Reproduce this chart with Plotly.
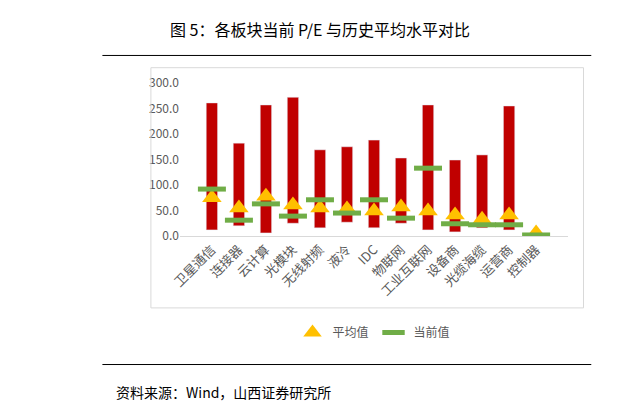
import plotly.graph_objects as go

categories = ['卫星通信', '连接器', '云计算', '光模块', '无线射频', '液冷', 'IDC',
              '物联网', '工业互联网', '设备商', '光缆海缆', '运营商', '控制器']
pe_max = [261, 182, 257, 272, 169, 175, 188, 153, 257, 149, 159, 255, 3]
pe_min = [12, 20, 6, 25, 16, 27, 16, 25, 12, 8, 16, 12, 1]
pe_avg = [75, 55, 78, 61, 55, 53, 49, 57, 49, 41, 33, 41, 6]
pe_now = [92, 31, 63, 39, 71, 45, 71, 35, 133, 24, 22, 22, 2]

font = 'Noto Sans CJK SC'
fig = go.Figure()
fig.add_trace(go.Bar(
    x=categories,
    y=[hi - lo for hi, lo in zip(pe_max, pe_min)],
    base=pe_min,
    marker={'color': '#C00000'},
    width=0.42,
    showlegend=False,
    hoverinfo='skip',
))
fig.add_trace(go.Scatter(
    x=categories, y=pe_avg, mode='markers', name='平均值',
    marker={'symbol': 'triangle-up', 'size': 17, 'color': '#FFC000'},
))
fig.add_trace(go.Scatter(
    x=categories, y=pe_now, mode='markers', name='当前值',
    marker={'symbol': 'line-ew', 'size': 20, 'line': {'color': '#70AD47', 'width': 5}},
))

fig.update_layout(
    width=644, height=409,
    margin={'l': 172, 'r': 84, 't': 75, 'b': 181},
    plot_bgcolor='white', paper_bgcolor='white',
    font={'family': font, 'size': 12, 'color': '#595959'},
    bargap=0.5,
    legend={'orientation': 'h', 'x': 0.5, 'xanchor': 'center', 'y': -0.63,
            'yanchor': 'middle', 'font': {'size': 12, 'color': '#595959'}},
    xaxis={'tickangle': -45, 'showline': True, 'linecolor': '#D9D9D9',
           'automargin': False, 'tickfont': {'size': 13, 'color': '#595959'}},
    yaxis={'range': [0, 300], 'dtick': 50, 'tickformat': '.1f', 'showgrid': False,
           'zeroline': False, 'automargin': False,
           'tickfont': {'size': 12, 'color': '#595959'}},
    shapes=[
        {'type': 'rect', 'xref': 'paper', 'yref': 'paper',
         'x0': -0.075, 'x1': 1.04, 'y0': -0.47, 'y1': 1.10,
         'line': {'color': '#D9D9D9', 'width': 1}},
        {'type': 'line', 'xref': 'paper', 'yref': 'paper',
         'x0': -0.2, 'x1': 1.06, 'y0': 1.18, 'y1': 1.18,
         'line': {'color': '#000000', 'width': 1}},
        {'type': 'line', 'xref': 'paper', 'yref': 'paper',
         'x0': -0.2, 'x1': 1.06, 'y0': -0.84, 'y1': -0.84,
         'line': {'color': '#000000', 'width': 1}},
    ],
    annotations=[
        {'text': '图 5：各板块当前 P/E 与历史平均水平对比', 'xref': 'paper', 'yref': 'paper',
         'x': 0.36, 'y': 1.35, 'yanchor': 'middle', 'showarrow': False,
         'font': {'family': font, 'size': 16, 'color': '#000000'}},
        {'text': '资料来源：Wind，山西证券研究所', 'xref': 'paper', 'yref': 'paper',
         'x': -0.17, 'y': -1.02, 'xanchor': 'left', 'yanchor': 'middle', 'showarrow': False,
         'font': {'family': font, 'size': 14, 'color': '#000000'}},
    ],
)
fig.write_html('out.html')
